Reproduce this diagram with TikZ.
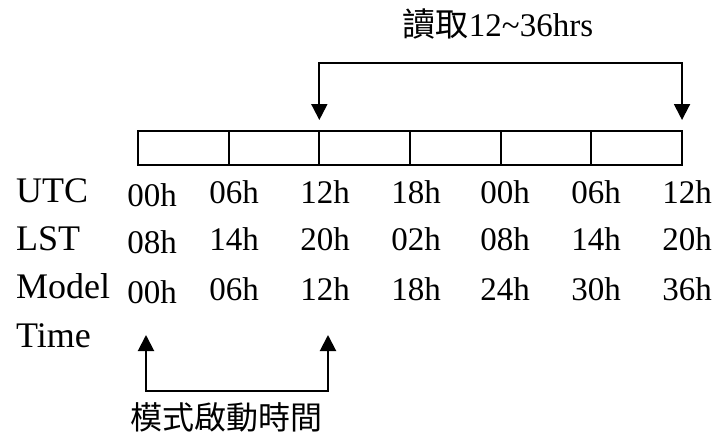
\documentclass[tikz,border=0pt]{standalone}
\usepackage{fontspec}
\setmainfont{Liberation Serif}
\newfontfamily\cjk{Noto Sans CJK TC}
\usetikzlibrary{arrows.meta}
\begin{document}
\begin{tikzpicture}[x=1pt,y=-1pt,
  cell/.style={draw,line width=2pt,minimum width=90.67pt,minimum height=34pt,inner sep=0pt,outer sep=0pt,anchor=north west},
  val/.style={font=\fontsize{33}{33}\selectfont,anchor=base,inner sep=0pt},
  lab/.style={font=\fontsize{36}{36}\selectfont,anchor=base west,inner sep=0pt},
  conn/.style={line width=2pt,{Triangle[width=16pt,length=16pt]}-{Triangle[width=16pt,length=16pt]}}]
\useasboundingbox (0,0) rectangle (718,439);
% cells
\foreach \i in {1,...,6}{
  \node[cell] (c\i) at ({138+(\i-1)*90.67},131) {};
}
% labels
\node[lab] (lutc) at (16,202) {UTC};
\node[lab] (llst) at (16,250) {LST};
\node[lab] (lmod) at (16,298) {Model};
\node[lab] (ltim) at (16,347) {Time};
% values
\node[val] (u1) at (152,206) {00h};
\node[val] (u2) at (234,203) {06h};
\node[val] (u3) at (325,203) {12h};
\node[val] (u4) at (416,203) {18h};
\node[val] (u5) at (505,203) {00h};
\node[val] (u6) at (596,203) {06h};
\node[val] (u7) at (687,203) {12h};
\node[val] (s1) at (152,253) {08h};
\node[val] (s2) at (234,250) {14h};
\node[val] (s3) at (325,250) {20h};
\node[val] (s4) at (416,250) {02h};
\node[val] (s5) at (505,250) {08h};
\node[val] (s6) at (596,250) {14h};
\node[val] (s7) at (687,250) {20h};
\node[val] (m1) at (152,303) {00h};
\node[val] (m2) at (234,300) {06h};
\node[val] (m3) at (325,300) {12h};
\node[val] (m4) at (416,300) {18h};
\node[val] (m5) at (505,300) {24h};
\node[val] (m6) at (596,300) {30h};
\node[val] (m7) at (687,300) {36h};
% top connector
\coordinate (t1) at ([yshift=11pt]c3.north west);
\coordinate (t2) at ([yshift=11pt]c6.north east);
\coordinate (th) at (0,63);
\draw[conn] (t1) -- (t1 |- th) -- (t2 |- th) -- (t2);
\node[anchor=base,inner sep=0pt,font=\fontsize{33}{33}\selectfont] (toptxt) at (498,36) {{\cjk 讀取}12\textasciitilde 36hrs};
% bottom connector
\coordinate (b1) at (146,335);
\coordinate (b2) at (328,335);
\coordinate (bh) at (0,391);
\draw[conn] (b1) -- (b1 |- bh) -- (b2 |- bh) -- (b2);
\node[anchor=base,inner sep=0pt,font=\fontsize{32}{32}\cjk] (bottxt) at (226,429) {模式啟動時間};
\end{tikzpicture}
\end{document}
